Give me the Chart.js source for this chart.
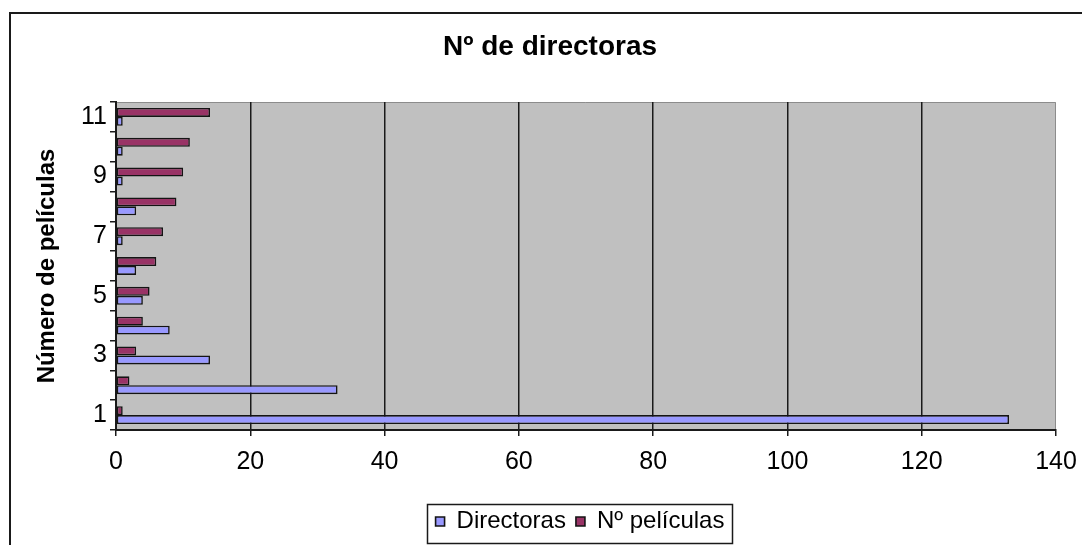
<!DOCTYPE html>
<html><head><meta charset="utf-8">
<script src="https://cdn.jsdelivr.net/npm/chart.js@4/dist/chart.umd.min.js"></script>
<style>html,body{margin:0;padding:0;background:#fff;overflow:hidden}canvas{display:block}</style>
</head><body>
<canvas id="c" width="1082" height="545" style="width:1082px;height:545px"></canvas>
<script>
const categories = ['1','2','3','4','5','6','7','8','9','10','11'];
const yTickLabels = ['1','','3','','5','','7','','9','','11'];
const directoras = [133, 33, 14, 8, 4, 3, 1, 3, 1, 1, 1];
const peliculas = [1, 2, 3, 4, 5, 6, 7, 9, 10, 11, 14];
const xTicks = [0, 20, 40, 60, 80, 100, 120, 140];
const seriesNames = ['Directoras', 'Nº películas'];
const chartTitle = 'Nº de directoras';
const yAxisTitle = 'Número de películas';

const FONT = "'Liberation Sans', Arial, sans-serif";
Chart.defaults.font.family = FONT;
Chart.defaults.color = '#000';

const framePlugin = {
  id: 'framePlugin',
  beforeDraw(chart) {
    const {ctx, chartArea: a} = chart;
    ctx.save();
    ctx.fillStyle = '#fff';
    ctx.fillRect(0, 0, chart.width, chart.height);
    ctx.strokeStyle = '#1a1a1a';
    ctx.lineWidth = 2;
    ctx.strokeRect(10, 13, chart.width + 40, chart.height + 40);
    ctx.fillStyle = '#c0c0c0';
    ctx.fillRect(a.left, a.top, a.right - a.left, a.bottom - a.top);
    ctx.strokeStyle = '#8c8c8c';
    ctx.lineWidth = 1;
    ctx.beginPath();
    ctx.moveTo(a.left, a.top + 0.5);
    ctx.lineTo(a.right - 0.5, a.top + 0.5);
    ctx.lineTo(a.right - 0.5, a.bottom);
    ctx.stroke();
    ctx.restore();
  },
  afterLayout(chart) {
    const t = chart.titleBlock;
    if (t) { t.left = 10; t.right = 1090; t.width = 1080; }
    const lg = chart.legend;
    if (lg) {
      const d = 580 - (lg.left + lg.right) / 2;
      lg.left += d; lg.right += d;
    }
  },
  afterDraw(chart) {
    const lg = chart.legend;
    if (!lg || !lg.legendHitBoxes || !lg.legendHitBoxes.length) return;
    const hb = lg.legendHitBoxes;
    let l = Infinity, r = -Infinity, t = Infinity, b = -Infinity;
    hb.forEach(h => { l = Math.min(l, h.left); r = Math.max(r, h.left + h.width); t = Math.min(t, h.top); b = Math.max(b, h.top + h.height); });
    const ctx = chart.ctx;
    ctx.save();
    ctx.strokeStyle = '#1a1a1a';
    ctx.lineWidth = 1.5;
    ctx.strokeRect(Math.round(l - 9) + 0.5, Math.round(t - 5.5) + 0.5, Math.round(r - l + 16), Math.round(b - t + 15));
    ctx.restore();
  }
};

new Chart(document.getElementById('c'), {
  type: 'bar',
  data: {
    labels: categories,
    datasets: [
      { label: seriesNames[1], data: peliculas, backgroundColor: '#993366', borderColor: '#141414', borderWidth: 1.6, borderSkipped: false },
      { label: seriesNames[0], data: directoras, backgroundColor: '#9999ff', borderColor: '#141414', borderWidth: 1.6, borderSkipped: false }
    ]
  },
  options: {
    indexAxis: 'y',
    responsive: false,
    animation: false,
    datasets: { bar: { categoryPercentage: 0.6, barPercentage: 1 } },
    layout: { padding: { left: 29, right: 26, top: 0, bottom: 1.5 } },
    plugins: {
      title: {
        display: true, text: chartTitle, color: '#000',
        font: { family: FONT, size: 28, weight: 'bold' },
        padding: { top: 30, bottom: 38.4 }
      },
      legend: {
        position: 'bottom',
        reverse: true,
        labels: { boxWidth: 9, boxHeight: 9, padding: 10, color: '#000', font: { family: FONT, size: 24 } }
      },
      tooltip: { enabled: false }
    },
    scales: {
      x: {
        min: xTicks[0], max: xTicks[xTicks.length - 1],
        ticks: { stepSize: xTicks[1] - xTicks[0], padding: 11.6, color: '#000', font: { family: FONT, size: 25 } },
        grid: {
          color: c => (c.index === xTicks.length - 1 ? 'rgba(0,0,0,0)' : '#1a1a1a'),
          tickColor: '#1a1a1a', lineWidth: 1.5, tickLength: 6
        },
        border: { display: true, color: '#1a1a1a', width: 2 },
        afterFit: s => { s.height = 69.5; s.paddingRight = 0; s.paddingLeft = 0; }
      },
      y: {
        reverse: true,
        ticks: { autoSkip: false, padding: 3, color: '#000', font: { family: FONT, size: 25 },
          callback: (v, i) => yTickLabels[i] },
        grid: { drawOnChartArea: false, color: '#1a1a1a', lineWidth: 1.5, tickLength: 6, offset: true },
        border: { display: true, color: '#1a1a1a', width: 2 },
        title: { display: true, text: yAxisTitle, color: '#000', font: { family: FONT, size: 24, weight: 'bold' }, padding: { top: 3.6, bottom: 0 } },
        afterFit: s => { s.width = 87; }
      }
    }
  },
  plugins: [framePlugin]
});
</script>
</body></html>
